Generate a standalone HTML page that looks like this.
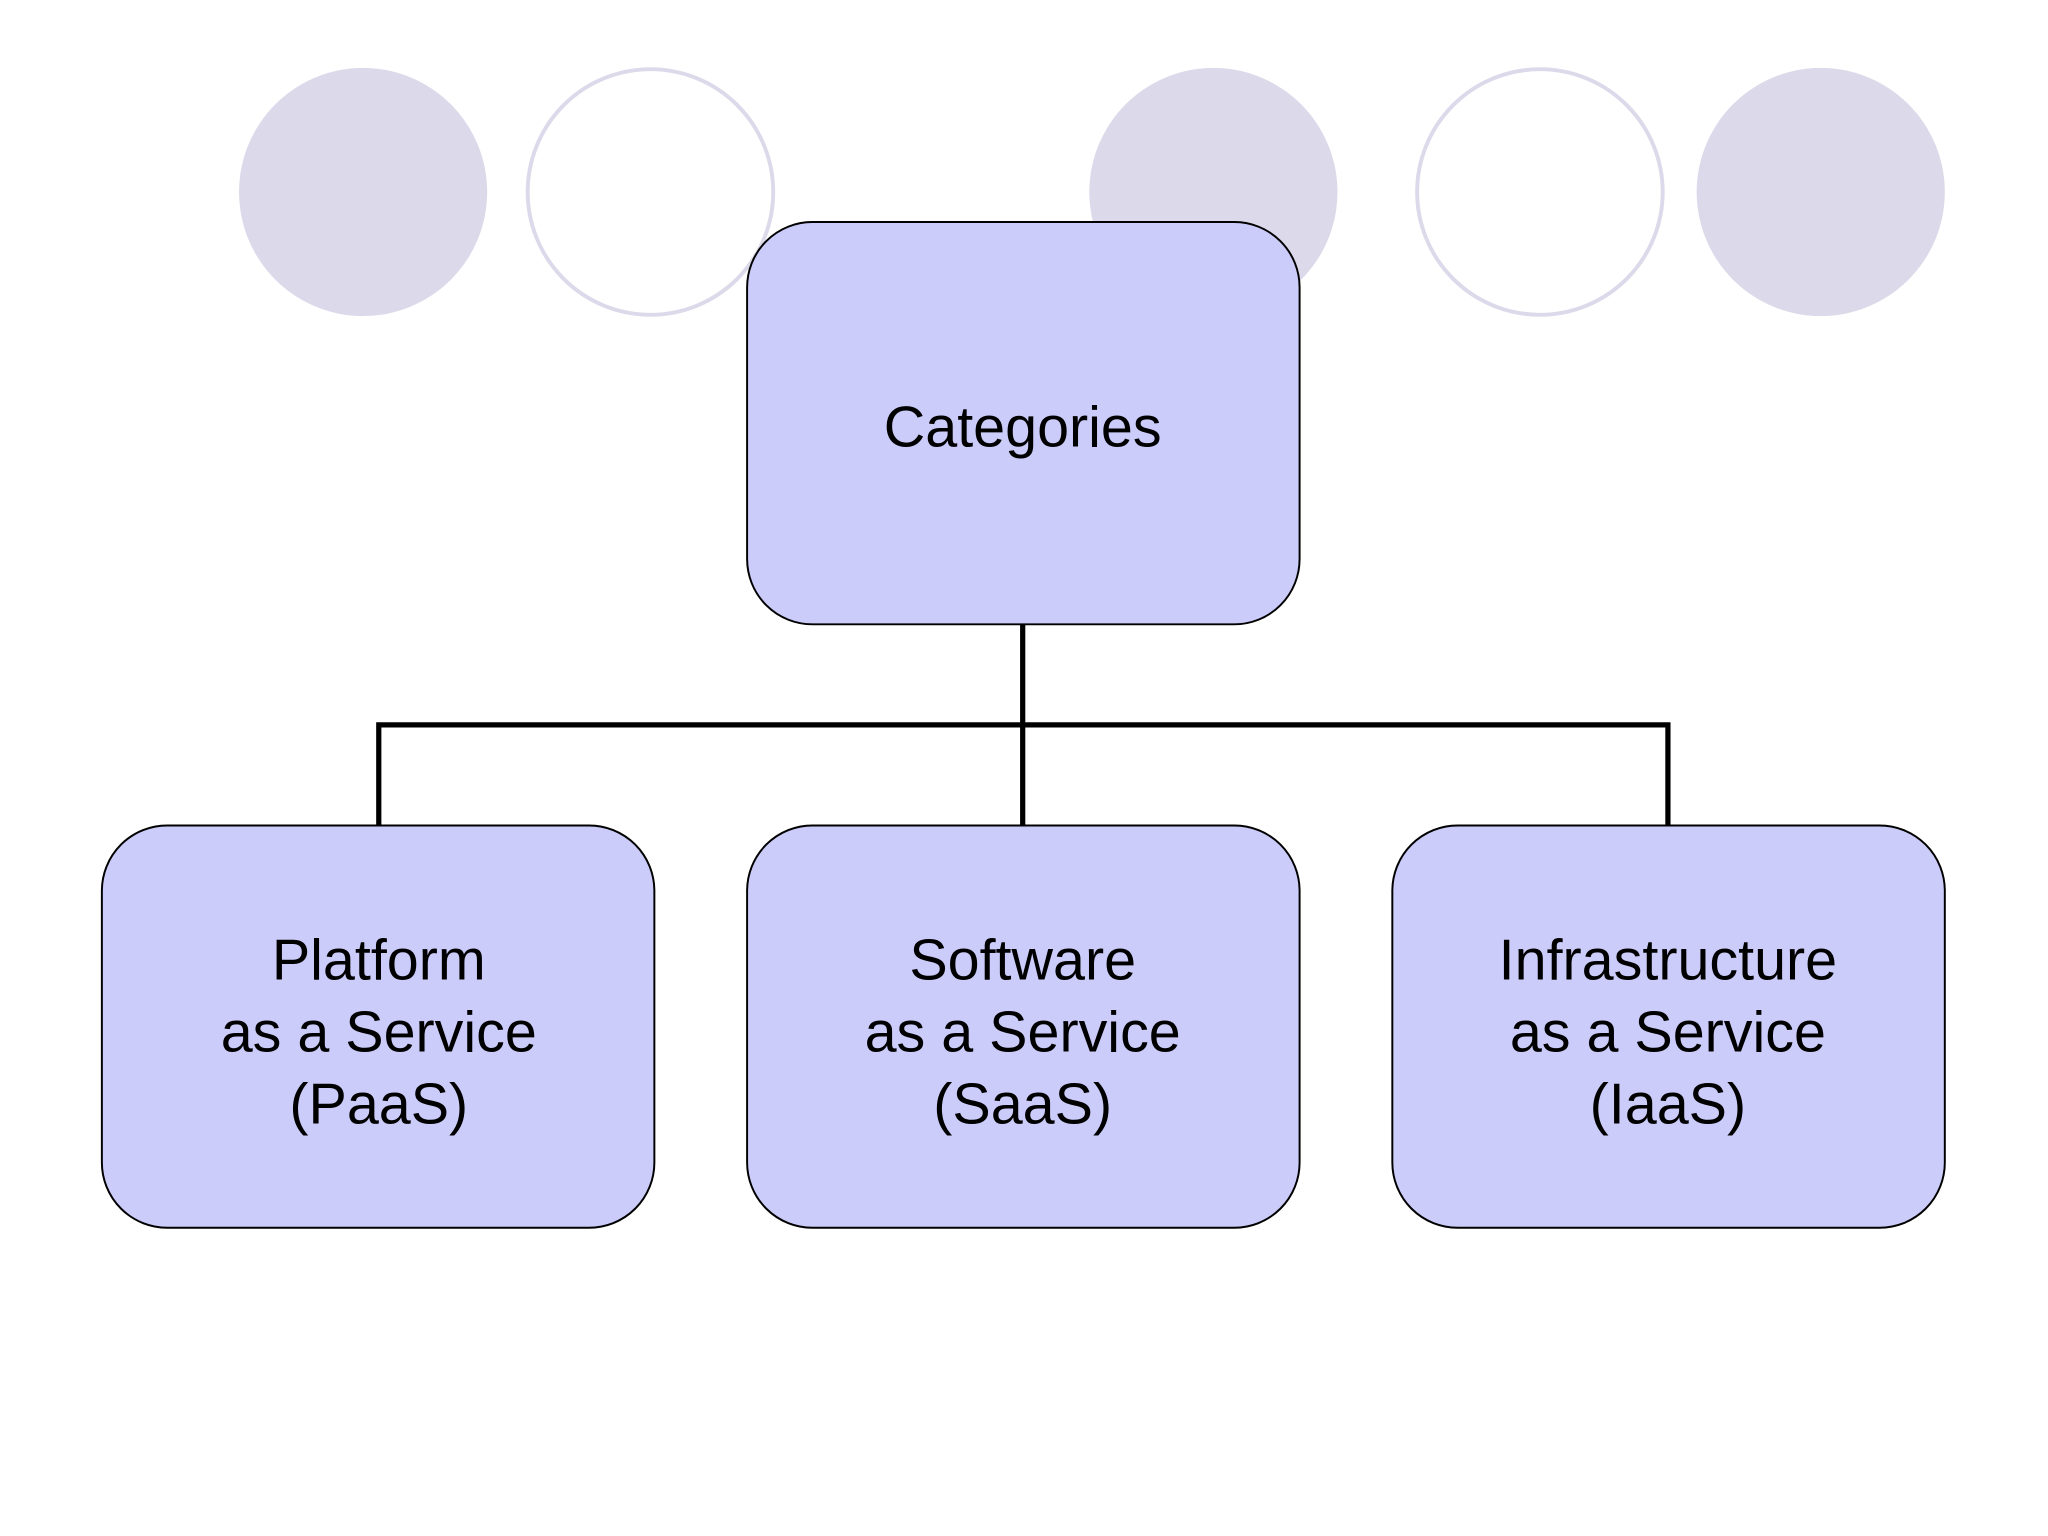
<!DOCTYPE html>
<html><head><meta charset="utf-8"><style>html,body{margin:0;padding:0;background:#fff;}svg{display:block}</style></head>
<body>
<svg width="2048" height="1536" viewBox="0 0 1568 1176" xmlns="http://www.w3.org/2000/svg" font-family="Liberation Sans, Arial, sans-serif">
<rect width="1568" height="1176" fill="#fff"/>
<circle cx="278" cy="147" r="95" fill="#dcdaea"/>
<circle cx="498" cy="147" r="94" fill="#fff" stroke="#dcdaea" stroke-width="3"/>
<circle cx="929" cy="147" r="95" fill="#dcdaea"/>
<circle cx="1179" cy="147" r="94" fill="#fff" stroke="#dcdaea" stroke-width="3"/>
<circle cx="1394" cy="147" r="95" fill="#dcdaea"/>
<g stroke="#000" stroke-width="4" fill="none">
<path d="M783 478 V632 M290 632 V555 H1277 V632"/>
</g>
<g fill="#ccccfa" stroke="#000" stroke-width="1.5">
<rect x="572" y="170" width="423" height="308" rx="50"/>
<rect x="78" y="632" width="423" height="308" rx="50"/>
<rect x="572" y="632" width="423" height="308" rx="50"/>
<rect x="1066" y="632" width="423" height="308" rx="50"/>
</g>
<g font-size="44" text-anchor="middle" fill="#000">
<text x="783" y="342">Categories</text>
<text x="290" y="750">Platform</text><text x="290" y="805">as a Service</text><text x="290" y="860">(PaaS)</text>
<text x="783" y="750">Software</text><text x="783" y="805">as a Service</text><text x="783" y="860">(SaaS)</text>
<text x="1277" y="750">Infrastructure</text><text x="1277" y="805">as a Service</text><text x="1277" y="860">(IaaS)</text>
</g>
</svg>
</body></html>
